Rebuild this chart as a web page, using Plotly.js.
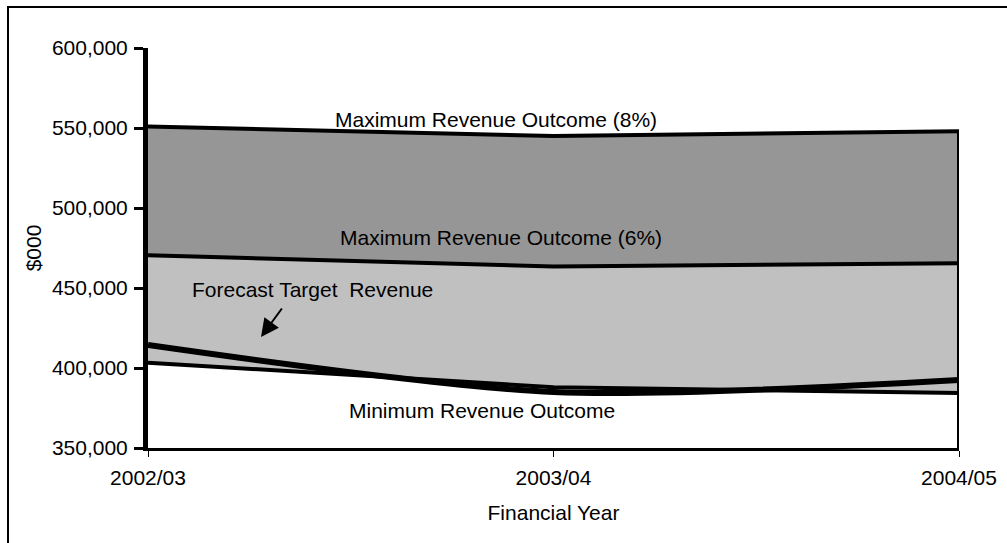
<!DOCTYPE html>
<html>
<head>
<meta charset="utf-8">
<script src="https://cdn.plot.ly/plotly-3.0.1.min.js"></script>
<style>
  html, body { margin: 0; padding: 0; background: #fff; }
  #wrap { position: relative; width: 1007px; height: 543px; overflow: hidden; }
  #chart { width: 1007px; height: 543px; }
  #frame { position: absolute; left: 7px; top: 6px; width: 1100px; height: 700px;
           border-left: 2.5px solid #000; border-top: 2.5px solid #000; pointer-events: none; }
</style>
</head>
<body>
<div id="wrap">
  <div id="chart"></div>
  <div id="frame"></div>
</div>
<script>
// Data ($000)
var years = ['2002/03', '2003/04', '2004/05'];
var maxRev8 = [551000, 545000, 548000];
var maxRev6 = [470500, 463500, 465500];
var minRev = [403300, 388000, 384300];
var forecastRev = [414400, 385000, 392500];
var yTicks = [350000, 400000, 450000, 500000, 550000, 600000];

var FONT = 'Liberation Sans, Arial, sans-serif';
var yMin = 350000, yMax = 600000;

var traces = [
  { x: years, y: minRev, type: 'scatter', mode: 'lines', name: 'Minimum Revenue Outcome',
    line: { color: '#000', width: 4 }, hoverinfo: 'x+y' },
  { x: years, y: maxRev6, type: 'scatter', mode: 'lines', name: 'Maximum Revenue Outcome (6%)',
    fill: 'tonexty', fillcolor: '#c0c0c0', line: { color: '#000', width: 4 } },
  { x: years, y: maxRev8, type: 'scatter', mode: 'lines', name: 'Maximum Revenue Outcome (8%)',
    fill: 'tonexty', fillcolor: '#969696', line: { color: '#000', width: 4 } },
  { x: years, y: forecastRev, type: 'scatter', mode: 'lines', name: 'Forecast Target Revenue',
    line: { color: '#000', width: 6, shape: 'spline', smoothing: 0.8 } },
  // right-hand edge of the stacked area
  { x: [years[years.length - 1], years[years.length - 1]], y: [maxRev8[maxRev8.length - 1], yMin],
    type: 'scatter', mode: 'lines', line: { color: '#000', width: 4 }, hoverinfo: 'skip' }
];

function px2x(px) { return (px - 148) / 811; }
function px2y(py) { return (448 - py) / 400; }

var layout = {
  width: 1007, height: 543,
  margin: { l: 148, r: 48, t: 48, b: 95 },
  paper_bgcolor: '#fff', plot_bgcolor: '#fff',
  showlegend: false,
  font: { family: FONT, size: 21, color: '#000' },
  xaxis: {
    type: 'category', range: [0, 2], showgrid: false, zeroline: false,
    showline: true, linecolor: '#000', linewidth: 2.5,
    ticks: 'outside', ticklen: 6, tickwidth: 1, tickcolor: '#000',
    ticklabelstandoff: 3,
    tickfont: { family: FONT, size: 21, color: '#000' },
    title: { text: 'Financial Year', font: { family: FONT, size: 21, color: '#000' }, standoff: 18 },
    automargin: false
  },
  yaxis: {
    range: [yMin, yMax], tickvals: yTicks, tickformat: ',d', showgrid: false, zeroline: false,
    showline: true, linecolor: '#000', linewidth: 5,
    ticks: 'outside', ticklen: 9, tickwidth: 3, tickcolor: '#000',
    ticklabelstandoff: 2,
    tickfont: { family: FONT, size: 21, color: '#000' },
    title: { text: '$000', font: { family: FONT, size: 21, color: '#000' }, standoff: 6 },
    automargin: false
  },
  annotations: [
    { xref: 'paper', yref: 'paper', x: px2x(496), y: px2y(119), text: 'Maximum Revenue Outcome (8%)',
      showarrow: false, xanchor: 'center', yanchor: 'middle', font: { family: FONT, size: 21, color: '#000' } },
    { xref: 'paper', yref: 'paper', x: px2x(501), y: px2y(237), text: 'Maximum Revenue Outcome (6%)',
      showarrow: false, xanchor: 'center', yanchor: 'middle', font: { family: FONT, size: 21, color: '#000' } },
    { xref: 'paper', yref: 'paper', x: px2x(190), y: px2y(289), text: 'Forecast Target&nbsp;&nbsp;Revenue',
      showarrow: false, xanchor: 'left', yanchor: 'middle', font: { family: FONT, size: 21, color: '#000' } },
    { xref: 'paper', yref: 'paper', x: px2x(482), y: px2y(410), text: 'Minimum Revenue Outcome',
      showarrow: false, xanchor: 'center', yanchor: 'middle', font: { family: FONT, size: 21, color: '#000' } },
    { xref: 'paper', yref: 'paper', x: px2x(261), y: px2y(337), text: '',
      showarrow: true, axref: 'pixel', ayref: 'pixel', ax: 22, ay: -30,
      arrowhead: 2, arrowsize: 1.8, arrowwidth: 2, arrowcolor: '#000' }
  ]
};

Plotly.newPlot('chart', traces, layout, { displayModeBar: false, staticPlot: true });
</script>
</body>
</html>
